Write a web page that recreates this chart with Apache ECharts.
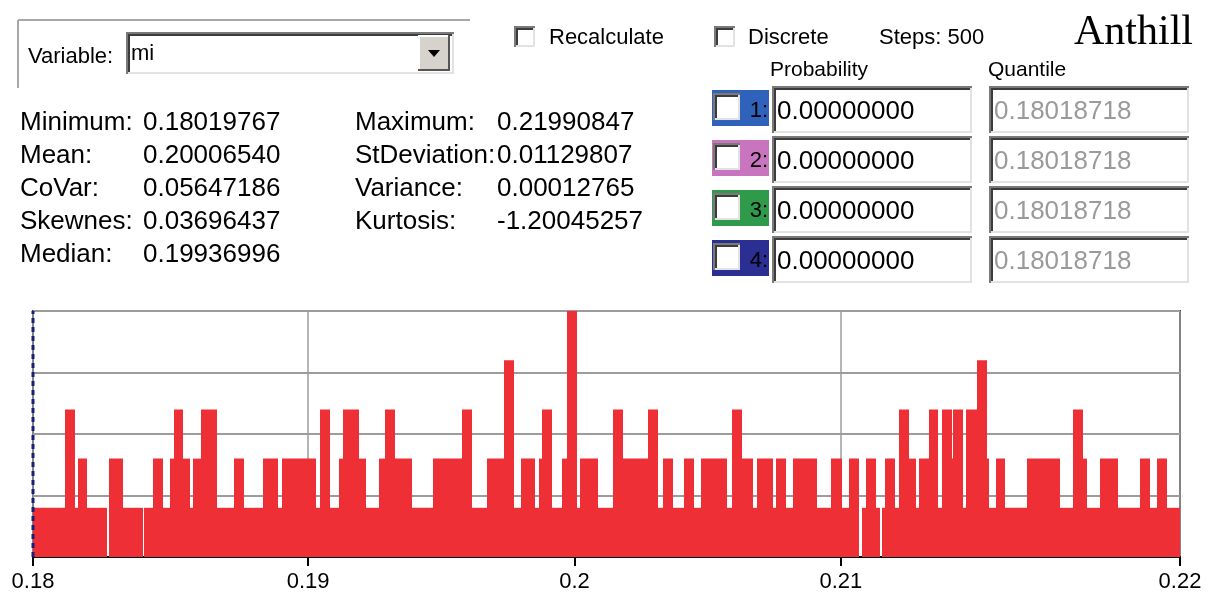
<!DOCTYPE html>
<html>
<head>
<meta charset="utf-8">
<script src="https://cdn.jsdelivr.net/npm/echarts@6/dist/echarts.min.js"></script>
<style>
  html, body { margin: 0; padding: 0; background: #ffffff; }
  #chart { width: 1208px; height: 595px; }
</style>
</head>
<body>
<div id="chart"></div>
<script>
// Histogram of variable "mi": bin edges along x and sample count in each bin.
var binEdges = [
  0.179669, 0.180871, 0.181246, 0.181348, 0.181708, 0.182436, 0.182534, 0.183060, 0.183788, 0.183848,
  0.184164, 0.184562, 0.184813, 0.184963, 0.185312, 0.185564, 0.185665, 0.185966, 0.186567, 0.187227,
  0.187603, 0.188316, 0.188879, 0.189029, 0.190283, 0.190445, 0.190820, 0.191158, 0.191320, 0.191920,
  0.192161, 0.192660, 0.192885, 0.193261, 0.193888, 0.194676, 0.195765, 0.196163, 0.196726, 0.197364,
  0.197740, 0.197980, 0.198528, 0.198678, 0.198791, 0.199155, 0.199542, 0.199707, 0.200083, 0.200206,
  0.200882, 0.201434, 0.201810, 0.202771, 0.203146, 0.203334, 0.203687, 0.204111, 0.204487, 0.204738,
  0.205737, 0.205925, 0.206300, 0.206690, 0.206841, 0.207464, 0.207565, 0.207941, 0.208192, 0.209116,
  0.209619, 0.210032, 0.210317, 0.210693, 0.210783, 0.210944, 0.211320, 0.211470, 0.211556, 0.211658,
  0.212033, 0.212195, 0.212570, 0.212810, 0.212934, 0.213310, 0.213659, 0.213787, 0.214162, 0.214222,
  0.214597, 0.214688, 0.215100, 0.215476, 0.215574, 0.215825, 0.216163, 0.216978, 0.218228, 0.218705,
  0.219080, 0.219253, 0.219730, 0.220417, 0.221232, 0.221607, 0.221858, 0.222234, 0.222733
];
var binCounts = [
  1, 3, 1, 2, 1, 0, 2, 1, 0, 1,
  2, 1, 2, 3, 2, 1, 2, 3, 1, 2,
  1, 2, 1, 2, 1, 3, 1, 2, 3, 2,
  1, 2, 3, 2, 1, 2, 3, 1, 2, 4,
  1, 2, 1, 2, 3, 1, 2, 5, 1, 2,
  1, 3, 2, 3, 1, 2, 1, 2, 1, 2,
  1, 3, 2, 1, 2, 1, 2, 1, 2, 1,
  2, 1, 2, 0, 1, 2, 1, 0, 1, 2,
  1, 3, 2, 1, 2, 3, 1, 3, 2, 3,
  1, 3, 4, 2, 1, 2, 1, 2, 1, 3,
  2, 1, 2, 1, 2, 1, 2, 1
];
var xTickValues = [0.19, 0.2, 0.21];
var yMax = 5;

// Summary statistics panel
var statLabelsLeft = ['Minimum:', 'Mean:', 'CoVar:', 'Skewnes:', 'Median:'];
var statValuesLeft = ['0.18019767', '0.20006540', '0.05647186', '0.03696437', '0.19936996'];
var statLabelsRight = ['Maximum:', 'StDeviation:', 'Variance:', 'Kurtosis:'];
var statValuesRight = ['0.21990847', '0.01129807', '0.00012765', '-1.20045257'];

// Probability / quantile marker rows
var markerIds = ['1:', '2:', '3:', '4:'];
var markerColors = ['#2f62ba', '#c874be', '#2f9a4a', '#2b2e92'];
var markerProbabilities = ['0.00000000', '0.00000000', '0.00000000', '0.00000000'];
var markerQuantiles = ['0.18018718', '0.18018718', '0.18018718', '0.18018718'];

var SANS = '"Liberation Sans", Arial, sans-serif';
var SERIF = '"Liberation Serif", "Times New Roman", serif';
var BAR_RED = '#ee2f36';

var xMin = binEdges[0];
var xMax = binEdges[binEdges.length - 1];
var axisTicks = [xMin].concat(xTickValues, [xMax]);

// one rectangle per bin: [left edge, right edge, count]
var binData = binCounts.map(function (c, i) { return [binEdges[i], binEdges[i + 1], c]; });

function txt(x, y, s, size, fill, family, align) {
  return {
    type: 'text', x: x, y: y, silent: true, z: 10,
    style: {
      text: s, fill: fill || '#000', align: align || 'left', verticalAlign: 'middle',
      font: size + 'px ' + (family || SANS)
    }
  };
}
function line(x1, y1, x2, y2, color, w) {
  return { type: 'line', silent: true, z: 10, shape: { x1: x1, y1: y1, x2: x2, y2: y2 },
           style: { stroke: color, lineWidth: w } };
}
function sunken(x, y, w, h) {
  return [
    { type: 'rect', silent: true, z: 9, shape: { x: x, y: y, width: w, height: h }, style: { fill: '#ffffff' } },
    { type: 'polyline', silent: true, z: 10, shape: { points: [[x, y + h - 1], [x + w - 1, y + h - 1], [x + w - 1, y]] },
      style: { stroke: '#e2e2e2', lineWidth: 2, fill: null } },
    { type: 'polyline', silent: true, z: 10, shape: { points: [[x + 1, y + h], [x + 1, y + 1], [x + w, y + 1]] },
      style: { stroke: '#7a7a7a', lineWidth: 2, fill: null } },
    { type: 'polyline', silent: true, z: 10, shape: { points: [[x + 3, y + h - 2], [x + 3, y + 3], [x + w - 2, y + 3]] },
      style: { stroke: '#3c3c3c', lineWidth: 2, fill: null } }
  ];
}

var g = [];
// variable selector group
g.push(line(18, 20, 470, 20, '#a8a8a8', 2));
g.push(line(18, 20, 18, 88, '#a8a8a8', 2));
g.push(txt(28, 57, 'Variable:', 22));
g = g.concat(sunken(126, 32, 328, 42));
g.push({ type: 'rect', silent: true, z: 11, shape: { x: 418, y: 35, width: 32, height: 36 }, style: { fill: '#d6d3cc' } });
g.push({ type: 'polyline', silent: true, z: 12, shape: { points: [[419, 71], [419, 36], [450, 36]] }, style: { stroke: '#ffffff', lineWidth: 2, fill: null } });
g.push({ type: 'polyline', silent: true, z: 12, shape: { points: [[418, 70], [449, 70], [449, 35]] }, style: { stroke: '#555555', lineWidth: 2, fill: null } });
g.push({ type: 'polygon', silent: true, z: 12, shape: { points: [[428, 50], [440, 50], [434, 57]] }, style: { fill: '#000' } });
g.push(txt(131, 54, 'mi', 22));

// option checkboxes
g = g.concat(sunken(514, 26, 21, 21));
g.push(txt(549, 38, 'Recalculate', 22));
g = g.concat(sunken(714, 26, 21, 21));
g.push(txt(748, 38, 'Discrete', 22));
g.push(txt(879, 38, 'Steps: 500', 22));
g.push(txt(1074, 33, 'Anthill', 42, '#000', SERIF));

// statistics
statLabelsLeft.forEach(function (s, i) {
  var y = 123 + i * 33;
  g.push(txt(20, y, s, 26));
  g.push(txt(143, y, statValuesLeft[i], 26));
});
statLabelsRight.forEach(function (s, i) {
  var y = 123 + i * 33;
  g.push(txt(355, y, s, 26));
  g.push(txt(497, y, statValuesRight[i], 26));
});

// marker rows
g.push(txt(770, 70, 'Probability', 21));
g.push(txt(988, 70, 'Quantile', 21));
markerIds.forEach(function (id, i) {
  var y0 = 86 + i * 50;
  g.push({ type: 'rect', silent: true, z: 9, shape: { x: 712, y: y0 + 4, width: 57, height: 36 }, style: { fill: markerColors[i] } });
  g = g.concat(sunken(713, y0 + 7, 27, 27).map(function (e) { e.z += 2; return e; }));
  g.push(txt(768, y0 + 25, id, 22, '#000', SANS, 'right'));
  g = g.concat(sunken(772, y0, 200, 47));
  g.push(txt(777, y0 + 26, markerProbabilities[i], 26));
  g = g.concat(sunken(989, y0, 200, 47));
  g.push(txt(994, y0 + 26, markerQuantiles[i], 26, '#9a9a9a'));
});

var chart = echarts.init(document.getElementById('chart'), null, { renderer: 'canvas' });
chart.setOption({
  animation: false,
  backgroundColor: '#ffffff',
  grid: { left: 33, top: 311, width: 1147, height: 246, show: true, borderColor: '#3a3a3a', borderWidth: 2, backgroundColor: 'transparent' },
  xAxis: {
    type: 'value', min: xMin, max: xMax,
    axisLine: { show: true, onZero: false, lineStyle: { color: '#000', width: 2 } },
    axisTick: { show: true, customValues: axisTicks, length: 9, lineStyle: { color: '#000', width: 2 } },
    axisLabel: {
      customValues: axisTicks, color: '#000', fontSize: 22, fontFamily: SANS, margin: 14,
      formatter: function (v) { return String(+(+v).toFixed(2)); }
    },
    splitLine: { show: true, lineStyle: { color: '#9c9c9c', width: 1.5 } }
  },
  yAxis: {
    type: 'value', min: 0, max: yMax, interval: 1.25,
    axisLine: { show: false }, axisTick: { show: false }, axisLabel: { show: false },
    splitLine: { show: true, lineStyle: { color: '#9c9c9c', width: 2 } }
  },
  series: [
    {
      type: 'custom', data: binData, silent: true, z: 3,
      encode: { x: [0, 1], y: 2 },
      renderItem: function (params, api) {
        var c = api.value(2);
        if (!c) { return null; }
        var a = api.coord([api.value(0), 0]);
        var b = api.coord([api.value(1), c]);
        // snap shared bin edges to whole pixels so neighbouring bins join without seams
        var x0 = Math.round(a[0]), x1 = Math.round(b[0]);
        return {
          type: 'rect',
          shape: { x: x0, y: b[1], width: x1 - x0, height: a[1] - b[1] },
          style: { fill: BAR_RED }
        };
      }
    },
    {
      // quantile markers all sit at the left edge of the range
      type: 'line', data: [[xMin, 0], [xMin, yMax]], symbol: 'none', silent: true,
      lineStyle: { color: '#14207a', width: 3, type: [5, 4] },
      z: 5
    }
  ],
  graphic: { elements: g }
});
</script>
</body>
</html>
